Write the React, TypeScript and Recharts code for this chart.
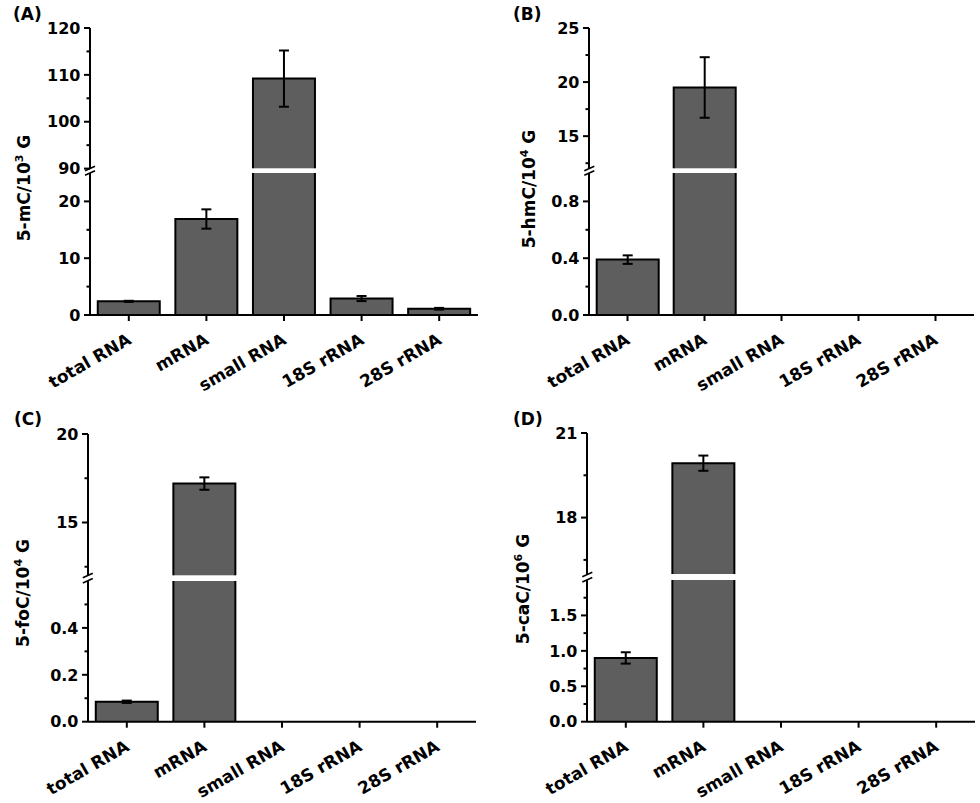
import React from "react";
import { BarChart, Bar, XAxis, YAxis, ErrorBar } from "recharts";

const categories = ["total RNA", "mRNA", "small RNA", "18S rRNA", "28S rRNA"];

// (A) 5-mC / 10^3 G
const mCValues = [2.4, 16.9, 109.2, 2.9, 1.1];
const mCErrors = [0.1, 1.7, 6.0, 0.45, 0.15];
// (B) 5-hmC / 10^4 G
const hmCValues = [0.39, 19.5, null, null, null];
const hmCErrors = [0.03, 2.8, null, null, null];
// (C) 5-foC / 10^4 G
const foCValues = [0.085, 17.2, null, null, null];
const foCErrors = [0.005, 0.35, null, null, null];
// (D) 5-caC / 10^6 G
const caCValues = [0.9, 19.93, null, null, null];
const caCErrors = [0.08, 0.27, null, null, null];

// axis ticks, upper and lower part of each broken axis
const mCUpperTicks = [90, 100, 110, 120];
const mCUpperMinor = [95, 105, 115];
const mCLowerTicks = [0, 10, 20];
const mCLowerMinor = [5, 15];
const hmCUpperTicks = [15, 20, 25];
const hmCUpperMinor = [12.5, 17.5, 22.5];
const hmCLowerTicks = [0, 0.4, 0.8];
const hmCLowerMinor = [0.2, 0.6];
const foCUpperTicks = [15, 20];
const foCUpperMinor = [12.5, 17.5];
const foCLowerTicks = [0, 0.2, 0.4];
const foCLowerMinor = [0.1, 0.3, 0.5];
const caCUpperTicks = [18, 21];
const caCUpperMinor = [16.5, 19.5];
const caCLowerTicks = [0, 0.5, 1.0, 1.5];
const caCLowerMinor = [0.25, 0.75, 1.25, 1.75];

const FONT = "'DejaVu Sans', sans-serif";
const BAR_FILL = "#5e5e5e";

type Seg = {
  top: number;
  bottom: number;
  domain: [number, number];
  major: number[];
  minor: number[];
  digits: number;
};

type PanelDef = {
  tag: string;
  tagX: number;
  tagY: number;
  axisX: number;
  plotW: number;
  label: string;
  sup: string;
  labelX: number;
  labelY: number;
  values: (number | null)[];
  errors: (number | null)[];
  upper: Seg;
  lower: Seg;
};

const panels: PanelDef[] = [
  {
    tag: "(A)", tagX: 13, tagY: 19.5, axisX: 90, plotW: 388,
    label: "5-mC/10", sup: "3", labelX: 30, labelY: 188,
    values: mCValues, errors: mCErrors,
    upper: { top: 27.7, bottom: 168.3, domain: [90, 120], major: mCUpperTicks, minor: mCUpperMinor, digits: 0 },
    lower: { top: 173.3, bottom: 315.3, domain: [0, 25], major: mCLowerTicks, minor: mCLowerMinor, digits: 0 },
  },
  {
    tag: "(B)", tagX: 513, tagY: 19.5, axisX: 589.3, plotW: 385,
    label: "5-hmC/10", sup: "4", labelX: 535, labelY: 189,
    values: hmCValues, errors: hmCErrors,
    upper: { top: 27.7, bottom: 168.3, domain: [12, 25], major: hmCUpperTicks, minor: hmCUpperMinor, digits: 0 },
    lower: { top: 173.3, bottom: 315.3, domain: [0, 1], major: hmCLowerTicks, minor: hmCLowerMinor, digits: 1 },
  },
  {
    tag: "(C)", tagX: 14, tagY: 424.5, axisX: 87.8, plotW: 388,
    label: "5-foC/10", sup: "4", labelX: 28.5, labelY: 593,
    values: foCValues, errors: foCErrors,
    upper: { top: 433.7, bottom: 575.3, domain: [12, 20], major: foCUpperTicks, minor: foCUpperMinor, digits: 0 },
    lower: { top: 581, bottom: 721.7, domain: [0, 0.6], major: foCLowerTicks, minor: foCLowerMinor, digits: 1 },
  },
  {
    tag: "(D)", tagX: 513, tagY: 424.5, axisX: 587.3, plotW: 388,
    label: "5-caC/10", sup: "6", labelX: 528.5, labelY: 589,
    values: caCValues, errors: caCErrors,
    upper: { top: 433.3, bottom: 574.3, domain: [16, 21], major: caCUpperTicks, minor: caCUpperMinor, digits: 0 },
    lower: { top: 580, bottom: 721.7, domain: [0, 2], major: caCLowerTicks, minor: caCLowerMinor, digits: 1 },
  },
];

// one part of the broken axis: bar shows if it reaches above the part's bottom,
// error bar only where the bar top falls inside the part
function segmentData(values: (number | null)[], errors: (number | null)[], lo: number, hi: number) {
  return categories.map((name, i) => {
    const v = values[i];
    const show = v != null && v > lo;
    const topInside = show && (v as number) <= hi;
    return { name, value: show ? v : null, error: topInside ? errors[i] : null };
  });
}

function BarShape(props: any) {
  const { x, y, width, height } = props;
  if (x == null || y == null || !width || !height) return null;
  return (
    <g>
      <rect x={x} y={y} width={width} height={height} fill={BAR_FILL} />
      <path
        d={`M${x},${y + height} L${x},${y} L${x + width},${y} L${x + width},${y + height}`}
        fill="none"
        stroke="#000"
        strokeWidth={2}
      />
    </g>
  );
}

function YTick(props: any) {
  const { x, y, payload, major, digits } = props;
  const isMajor = major.includes(payload.value);
  const len = isMajor ? 6 : 3.5;
  return (
    <g>
      <line x1={x - len} x2={x} y1={y} y2={y} stroke="#000" strokeWidth={2} />
      {isMajor && (
        <text x={x - 9.5} y={y} dy="0.36em" textAnchor="end" fontFamily={FONT} fontWeight="bold" fontSize={16} fill="#000">
          {Number(payload.value).toFixed(digits)}
        </text>
      )}
    </g>
  );
}

function XTick(props: any) {
  const { x, y, payload } = props;
  const tx = x + 3.5;
  const ty = y + 22;
  return (
    <text
      x={tx}
      y={ty}
      transform={`rotate(-30, ${tx}, ${ty})`}
      textAnchor="end"
      fontFamily={FONT}
      fontWeight="bold"
      fontSize={17}
      fill="#000"
    >
      {payload.value}
    </text>
  );
}

function Segment({ panel, seg, showX }: { panel: PanelDef; seg: Seg; showX: boolean }) {
  const MT = 14;
  const MR = 8;
  const YW = 70;
  const XH = 90;
  const MB = 14;
  const plotH = seg.bottom - seg.top;
  const data = segmentData(panel.values, panel.errors, seg.domain[0], seg.domain[1]);
  return (
    <div style={{ position: "absolute", left: panel.axisX - YW, top: seg.top - MT }}>
      <BarChart
        width={YW + panel.plotW + MR}
        height={MT + plotH + (showX ? XH : MB)}
        data={data}
        margin={{ top: MT, right: MR, left: 0, bottom: showX ? 0 : MB }}
        barCategoryGap="10%"
      >
        <Bar dataKey="value" shape={<BarShape />} isAnimationActive={false}>
          <ErrorBar dataKey="error" width={5} stroke="#000" strokeWidth={2} isAnimationActive={false} />
        </Bar>
        <XAxis
          dataKey="name"
          hide={!showX}
          height={XH}
          interval={0}
          tickSize={6}
          tickMargin={0}
          tickLine={{ stroke: "#000", strokeWidth: 2 }}
          axisLine={{ stroke: "#000", strokeWidth: 2 }}
          tick={<XTick />}
        />
        <YAxis
          type="number"
          domain={seg.domain}
          allowDataOverflow
          ticks={[...seg.major, ...seg.minor]}
          interval={0}
          width={YW}
          tickLine={false}
          tickSize={0}
          tickMargin={0}
          axisLine={{ stroke: "#000", strokeWidth: 2 }}
          tick={<YTick major={seg.major} digits={seg.digits} />}
        />
      </BarChart>
    </div>
  );
}

function Decorations() {
  return (
    <svg width={980} height={803} style={{ position: "absolute", left: 0, top: 0, pointerEvents: "none" }}>
      {panels.map((p) => (
        <g key={p.tag}>
          <text x={p.tagX} y={p.tagY} fontFamily={FONT} fontWeight="bold" fontSize={17} fill="#000">
            {p.tag}
          </text>
          <text
            transform={`translate(${p.labelX}, ${p.labelY}) rotate(-90)`}
            textAnchor="middle"
            fontFamily={FONT}
            fontWeight="bold"
            fontSize={17}
            fill="#000"
          >
            {p.label}
            <tspan fontSize={11} dy={-7}>{p.sup}</tspan>
            <tspan dy={7}> G</tspan>
          </text>
          <line x1={p.axisX - 5} y1={p.upper.bottom + 2.5} x2={p.axisX + 5} y2={p.upper.bottom - 2} stroke="#000" strokeWidth={1.6} />
          <line x1={p.axisX - 5} y1={p.lower.top + 2} x2={p.axisX + 5} y2={p.lower.top - 2.5} stroke="#000" strokeWidth={1.6} />
        </g>
      ))}
    </svg>
  );
}

export default function App() {
  return (
    <div style={{ position: "absolute", left: 0, top: 0, width: 980, height: 803, background: "#fff", overflow: "hidden" }}>
      {panels.map((p) => (
        <React.Fragment key={p.tag}>
          <Segment panel={p} seg={p.upper} showX={false} />
          <Segment panel={p} seg={p.lower} showX={true} />
        </React.Fragment>
      ))}
      <Decorations />
    </div>
  );
}
